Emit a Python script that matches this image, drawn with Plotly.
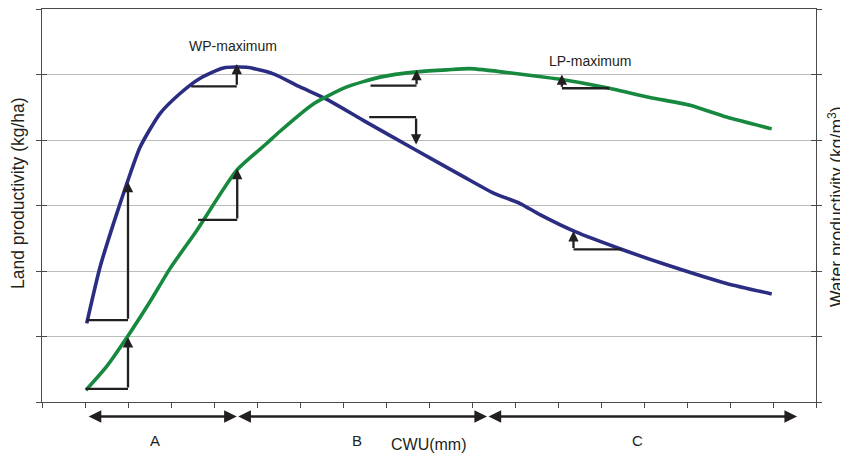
import plotly.graph_objects as go

# ---- data (x = CWU in tick units, y = productivity in gridline units) ----
wp_x = [1.04, 1.35, 1.66, 1.97, 2.28, 2.74, 3.21, 3.67, 4.22, 4.76, 5.38, 6.00,
        6.66, 7.47, 8.63, 9.80, 10.50, 11.12, 11.58, 12.40, 13.44, 14.45, 15.92, 16.97]
wp_y = [1.20, 2.06, 2.72, 3.33, 3.89, 4.40, 4.71, 4.94, 5.10, 5.11, 5.01, 4.81,
        4.61, 4.30, 3.87, 3.44, 3.19, 3.03, 2.86, 2.60, 2.34, 2.11, 1.81, 1.65]

lp_x = [1.02, 1.50, 1.99, 2.51, 2.98, 3.60, 4.53, 5.23, 5.53, 6.31, 7.09, 7.86,
        8.71, 9.41, 9.95, 10.96, 12.01, 13.05, 14.14, 15.07, 15.92, 16.97]
lp_y = [0.18, 0.54, 1.00, 1.53, 2.04, 2.62, 3.54, 3.95, 4.13, 4.55, 4.81, 4.96,
        5.04, 5.07, 5.09, 5.02, 4.93, 4.81, 4.65, 4.53, 4.35, 4.17]

# slope triangles: horizontal from hx0..hx1 at hy, arrow at x=ax from hy to tip
slope_hx0 = [1.04, 1.02, 3.63, 3.47, 7.64, 7.61, 12.09, 12.36]
slope_hx1 = [2.00, 2.00, 4.54, 4.53, 8.71, 8.70, 13.19, 13.48]
slope_hy = [1.25, 0.20, 2.78, 4.82, 4.83, 4.35, 4.79, 2.33]
slope_ax = [2.00, 2.00, 4.54, 4.53, 8.71, 8.70, 12.09, 12.36]
slope_tip = [3.36, 0.99, 3.56, 5.16, 5.07, 3.93, 5.00, 2.61]

# phases along CWU axis
phase_bounds = [1.05, 4.53, 10.35, 17.56]
phase_labels = ["A", "B", "C"]
phase_label_x = [2.63, 7.33, 13.84]

peak_labels = ["WP-maximum", "LP-maximum"]
peak_label_x = [4.44, 12.74]
peak_label_y = [5.43, 5.21]

BLUE = "#2b2d83"
GREEN = "#16893f"
INK = "#231f20"
AXC = "#4a4a4a"
FONT = "Arial, Liberation Sans, Helvetica, sans-serif"

fig = go.Figure()
fig.add_trace(go.Scatter(x=wp_x, y=wp_y, mode="lines", name="WP",
                         line=dict(color=BLUE, width=3.6, shape="spline", smoothing=0.6),
                         hoverinfo="skip"))
fig.add_trace(go.Scatter(x=lp_x, y=lp_y, mode="lines", name="LP",
                         line=dict(color=GREEN, width=3.6, shape="spline", smoothing=0.6),
                         hoverinfo="skip"))
fig.add_trace(go.Scatter(x=[], y=[], yaxis="y2", showlegend=False, hoverinfo="skip"))

shapes = []
annotations = []
for hx0, hx1, hy, ax, tip in zip(slope_hx0, slope_hx1, slope_hy, slope_ax, slope_tip):
    shapes.append(dict(type="line", xref="x", yref="y", x0=hx0, x1=hx1, y0=hy, y1=hy,
                       line=dict(color=INK, width=2.3)))
    annotations.append(dict(x=ax, y=tip, xref="x", yref="y", ax=ax, ay=hy,
                            axref="x", ayref="y", text="", showarrow=True,
                            arrowhead=2, arrowsize=0.9, arrowwidth=2.3,
                            arrowcolor=INK, standoff=0))

# screen-pixel helpers for paper positions (page has an 8px body margin)
PLOT_H = 393.0
def py_to_paper(py):
    return (402.0 - py) / PLOT_H

def px_to_paper(px):
    return (px - 42.0) / 774.0

for i in range(len(phase_labels)):
    annotations.append(dict(x=phase_bounds[i + 1], y=py_to_paper(416.5), xref="x", yref="paper",
                            ax=phase_bounds[i], ay=0, axref="x", ayref="pixel",
                            text="", showarrow=True, arrowhead=2, startarrowhead=2,
                            arrowside="end+start", arrowsize=1.1, startarrowsize=1.1,
                            arrowwidth=2.3, arrowcolor=INK, standoff=0, startstandoff=0))
    annotations.append(dict(x=phase_label_x[i], y=py_to_paper(440.5), xref="x", yref="paper",
                            text=phase_labels[i], showarrow=False,
                            xanchor="center", yanchor="middle",
                            font=dict(size=15, color=INK, family=FONT)))

for t, x, y in zip(peak_labels, peak_label_x, peak_label_y):
    annotations.append(dict(x=x, y=y, xref="x", yref="y", text=t, showarrow=False,
                            xanchor="center", yanchor="middle",
                            font=dict(size=14, color=INK, family=FONT)))

annotations.append(dict(x=9.0, y=py_to_paper(444), xref="x", yref="paper", text="CWU(mm)",
                        showarrow=False, xanchor="center", yanchor="middle",
                        font=dict(size=16, color=INK, family=FONT)))
annotations.append(dict(x=px_to_paper(18), y=py_to_paper(193), xref="paper", yref="paper",
                        text="Land productivity (kg/ha)", textangle=-90,
                        showarrow=False, xanchor="center", yanchor="middle",
                        font=dict(size=17.5, color=INK, family=FONT)))
annotations.append(dict(x=px_to_paper(836), y=py_to_paper(206), xref="paper", yref="paper",
                        text="Water productivity (kg/m<sup>3</sup>)", textangle=-90,
                        showarrow=False, xanchor="center", yanchor="middle",
                        font=dict(size=17.5, color=INK, family=FONT)))

fig.update_layout(
    width=840, height=450,
    margin=dict(l=34, r=32, t=1, b=56),
    plot_bgcolor="white", paper_bgcolor="white",
    showlegend=False,
    font=dict(family=FONT, color=INK),
    xaxis=dict(range=[0, 18], tickmode="linear", tick0=0, dtick=1,
               ticks="outside", ticklen=5, tickwidth=1, tickcolor=AXC,
               showticklabels=False, showline=True, linecolor=AXC, linewidth=1,
               mirror=True, showgrid=False, zeroline=False, fixedrange=True),
    yaxis=dict(range=[0, 6], tickmode="linear", tick0=0, dtick=1,
               ticks="outside", ticklen=5, tickwidth=1, tickcolor=AXC,
               showticklabels=False, showline=True, linecolor=AXC, linewidth=1,
               mirror="allticks", showgrid=True, gridcolor="#bcbcbc", gridwidth=1,
               zeroline=False, fixedrange=True),
    yaxis2=dict(overlaying="y", side="left", range=[0, 6], tickmode="linear",
                tick0=0, dtick=1, ticks="inside", ticklen=5, tickwidth=1,
                tickcolor=AXC, showticklabels=False, showline=True, linecolor=AXC,
                linewidth=1, mirror="allticks", showgrid=False, zeroline=False,
                fixedrange=True),
    shapes=shapes,
    annotations=annotations,
)

fig.write_html("out.html")
